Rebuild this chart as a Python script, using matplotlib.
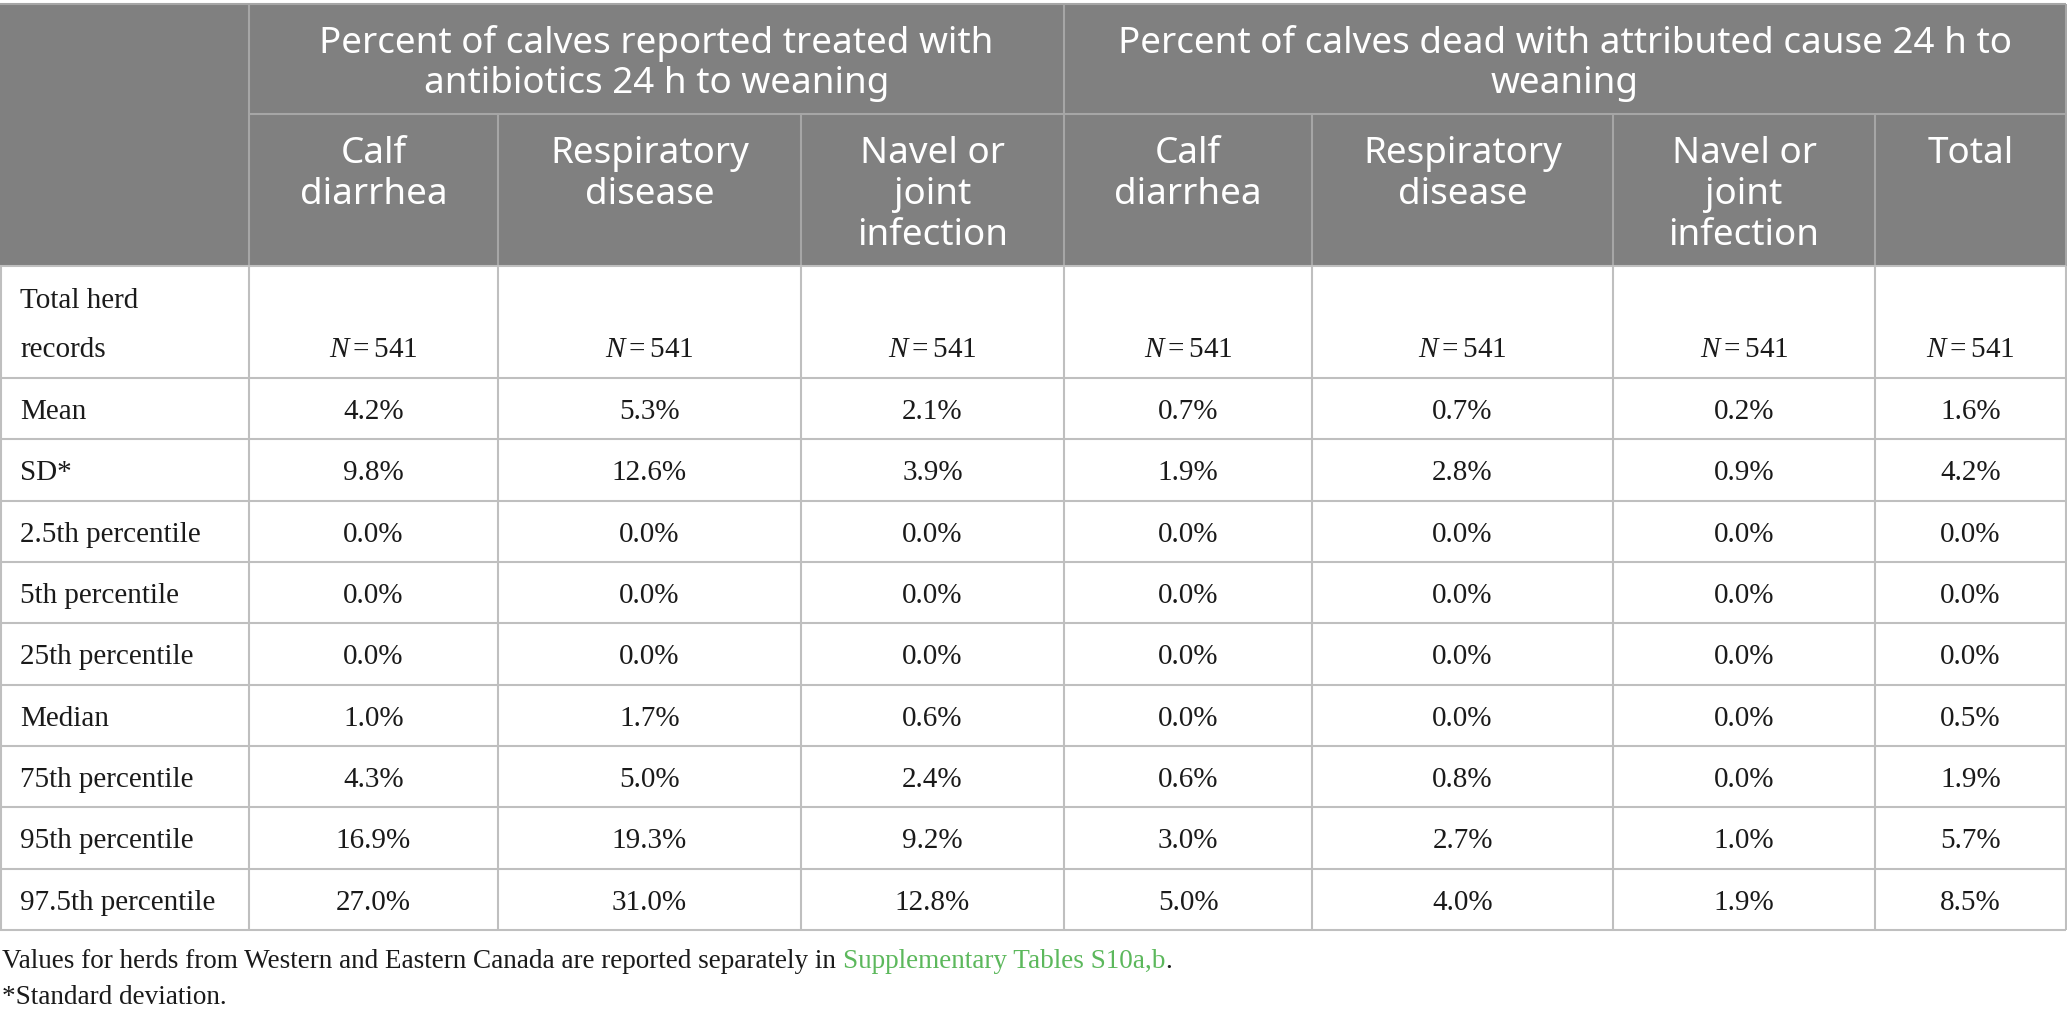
import matplotlib
matplotlib.use("Agg")
import matplotlib.pyplot as plt
from matplotlib.patches import Rectangle

plt.rcParams['mathtext.fontset'] = 'custom'
plt.rcParams['mathtext.rm'] = 'Liberation Serif'
plt.rcParams['mathtext.it'] = 'Liberation Serif:italic'

# table content
group_titles = [
    ["Percent of calves reported treated with", "antibiotics 24 h to weaning"],
    ["Percent of calves dead with attributed cause 24 h to", "weaning"],
]
col_headers = [
    ["Calf", "diarrhea"],
    ["Respiratory", "disease"],
    ["Navel or", "joint", "infection"],
    ["Calf", "diarrhea"],
    ["Respiratory", "disease"],
    ["Navel or", "joint", "infection"],
    ["Total"],
]
row_labels = ["Mean", "SD*", "2.5th percentile", "5th percentile", "25th percentile",
              "Median", "75th percentile", "95th percentile", "97.5th percentile"]
n_records = [541, 541, 541, 541, 541, 541, 541]

abx_diarrhea = [4.2, 9.8, 0.0, 0.0, 0.0, 1.0, 4.3, 16.9, 27.0]
abx_resp = [5.3, 12.6, 0.0, 0.0, 0.0, 1.7, 5.0, 19.3, 31.0]
abx_navel = [2.1, 3.9, 0.0, 0.0, 0.0, 0.6, 2.4, 9.2, 12.8]
dead_diarrhea = [0.7, 1.9, 0.0, 0.0, 0.0, 0.0, 0.6, 3.0, 5.0]
dead_resp = [0.7, 2.8, 0.0, 0.0, 0.0, 0.0, 0.8, 2.7, 4.0]
dead_navel = [0.2, 0.9, 0.0, 0.0, 0.0, 0.0, 0.0, 1.0, 1.9]
dead_total = [1.6, 4.2, 0.0, 0.0, 0.0, 0.5, 1.9, 5.7, 8.5]
columns = [abx_diarrhea, abx_resp, abx_navel, dead_diarrhea, dead_resp, dead_navel, dead_total]

footnote_1 = "Values for herds from Western and Eastern Canada are reported separately in "
footnote_link = "Supplementary Tables S10a,b"
footnote_2 = "*Standard deviation."

# layout (pixel coordinates)
W, H = 2067, 1022
col_x = [0, 249, 498, 801, 1064, 1312, 1613, 1875, 2066]
group_split = 1064
top, head_split, head_bottom = 4, 114, 266
first_row_bottom = 378
row_h = (930 - 378) / 9

header_bg = '#808080'
header_line = '#a6a6a6'
body_line = '#bfbfbf'
head_font = 'Noto Sans'
body_font = 'Liberation Serif'
head_size = 26.5
body_size = 21
text_col = '#1a1a1a'

fig = plt.figure(figsize=(W / 100, H / 100), dpi=100)
ax = fig.add_axes([0, 0, 1, 1])
ax.set_xlim(0, W)
ax.set_ylim(H, 0)
ax.axis('off')

# header background
ax.add_patch(Rectangle((0, top), W - 1, head_bottom - top, color=header_bg, lw=0, zorder=0))

# header lines
ax.hlines(top, 0, W - 1, color=header_line, lw=1.5)
ax.hlines(head_split, col_x[1], W - 1, color=header_line, lw=1.5)
for x in [col_x[1], group_split]:
    ax.vlines(x, top, head_bottom, color=header_line, lw=1.5)
for x in col_x[2:-1]:
    if x != group_split:
        ax.vlines(x, head_split, head_bottom, color=header_line, lw=1.5)
ax.vlines(W - 1.5, top, head_bottom, color=header_line, lw=1.5)

# body lines
row_edges = [head_bottom, first_row_bottom] + [first_row_bottom + row_h * (i + 1) for i in range(len(row_labels))]
for y in row_edges:
    ax.hlines(y, 0, W - 1, color=body_line, lw=1.5)
for x in col_x:
    ax.vlines(min(max(x, 0.8), W - 1.5), head_bottom, row_edges[-1], color=body_line, lw=1.5)

# group titles
group_centers = [(col_x[1] + group_split) / 2, (group_split + col_x[-1]) / 2]
for cx, lines in zip(group_centers, group_titles):
    for k, line in enumerate(lines):
        ax.text(cx, 53 + 40.5 * k, line, ha='center', va='baseline', color='white',
                fontsize=head_size, family=head_font)

# column headers
for j, lines in enumerate(col_headers):
    cx = (col_x[j + 1] + col_x[j + 2]) / 2
    for k, line in enumerate(lines):
        ax.text(cx, 163 + 41 * k, line, ha='center', va='baseline', color='white',
                fontsize=head_size, family=head_font)

# first body row: total herd records
ax.text(20, 308, "Total herd", ha='left', va='baseline', fontsize=body_size, family=body_font, color=text_col)
ax.text(20, 357, "records", ha='left', va='baseline', fontsize=body_size, family=body_font, color=text_col)
for j, n in enumerate(n_records):
    cx = (col_x[j + 1] + col_x[j + 2]) / 2
    ax.text(cx, 357, r'$N=%d$' % n, ha='center', va='baseline', fontsize=body_size, color=text_col)

# statistic rows
for i, label in enumerate(row_labels):
    yc = (row_edges[i + 1] + row_edges[i + 2]) / 2
    ax.text(20, yc + 10.5, label, ha='left', va='baseline', fontsize=body_size, family=body_font, color=text_col)
    for j, col in enumerate(columns):
        cx = (col_x[j + 1] + col_x[j + 2]) / 2
        ax.text(cx, yc + 10.5, f"{col[i]:.1f}%", ha='center', va='baseline',
                fontsize=body_size, family=body_font, color=text_col)

# footnotes
t = ax.text(2, 968, footnote_1, ha='left', va='baseline', fontsize=19.5, family=body_font, color=text_col)
fig.canvas.draw()
bb = t.get_window_extent()
x_link = ax.transData.inverted().transform((bb.x1, 0))[0]
t2 = ax.text(x_link, 968, footnote_link, ha='left', va='baseline', fontsize=19.5, family=body_font, color='#5cb85c')
bb2 = t2.get_window_extent(renderer=fig.canvas.get_renderer())
x_dot = ax.transData.inverted().transform((bb2.x1, 0))[0]
ax.text(x_dot, 968, ".", ha='left', va='baseline', fontsize=19.5, family=body_font, color=text_col)
ax.text(2, 1004, footnote_2, ha='left', va='baseline', fontsize=19.5, family=body_font, color=text_col)

fig.savefig('out.png', dpi=100)
